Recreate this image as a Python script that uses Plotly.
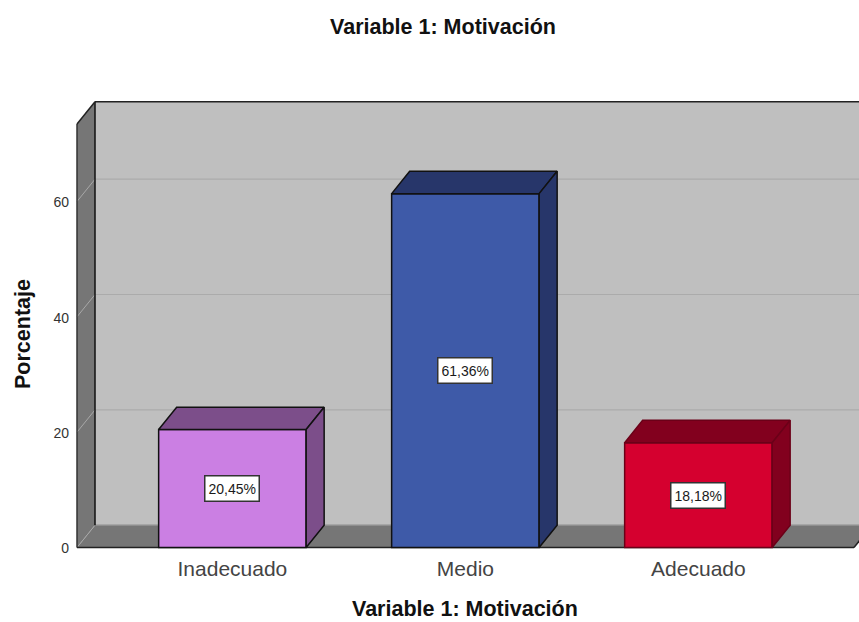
import plotly.graph_objects as go

categories = ["Inadecuado", "Medio", "Adecuado"]
percentages = [20.45, 61.36, 18.18]
y_ticks = [0, 20, 40, 60]
chart_title = "Variable 1: Motivación"
x_title = "Variable 1: Motivación"
y_title = "Porcentaje"

front_colors = ["#CB7FE3", "#3E5AA8", "#D5002F"]
side_colors = ["#7C4E8A", "#27366A", "#82001E"]
bar_edges = ["#111111", "#111111", "#6b0018"]

WIDTH, HEIGHT = 859, 622
M_L, M_R, M_T, M_B = 70, 0, 95, 70
PX_PER_CAT = 233.0
PX_PER_UNIT = 5.767
X0_PX, Y0_PX = 232.4, 547.5

x_range = [(M_L - X0_PX) / PX_PER_CAT, (WIDTH - M_R - X0_PX) / PX_PER_CAT]
y_range = [(Y0_PX - (HEIGHT - M_B)) / PX_PER_UNIT, (Y0_PX - M_T) / PX_PER_UNIT]

DX = 18 / PX_PER_CAT
DY = 22.3 / PX_PER_UNIT
BAR_W = 147.5 / PX_PER_CAT
Y_TOP_FRONT = (Y0_PX - 124) / PX_PER_UNIT
X_LEFT = (77 - X0_PX) / PX_PER_CAT
X_RIGHT = (854 - X0_PX) / PX_PER_CAT
xs = list(range(len(categories)))

fig = go.Figure()

# Front faces
fig.add_trace(go.Bar(
    x=xs, y=percentages, width=BAR_W,
    marker=dict(color=front_colors, line=dict(color=bar_edges, width=1.5)),
    hoverinfo="skip", showlegend=False,
))

# Top and side faces
for x, v, side, edge in zip(xs, percentages, side_colors, bar_edges):
    l, r = x - BAR_W / 2, x + BAR_W / 2
    fig.add_trace(go.Scatter(
        x=[l, l + DX, r + DX, r, l], y=[v, v + DY, v + DY, v, v],
        mode="lines", fill="toself", fillcolor=side,
        line=dict(color=edge, width=1.5), hoverinfo="skip", showlegend=False))
    fig.add_trace(go.Scatter(
        x=[r, r + DX, r + DX, r, r], y=[v, v + DY, DY, 0, v],
        mode="lines", fill="toself", fillcolor=side,
        line=dict(color=edge, width=1.5), hoverinfo="skip", showlegend=False))


def poly(px, py, fill, line_color=None, line_w=0):
    path = "M " + " L ".join(f"{a},{b}" for a, b in zip(px, py)) + " Z"
    return dict(type="path", path=path, xref="x", yref="y", layer="below",
                fillcolor=fill, line=dict(color=line_color or fill, width=line_w))


def seg(x0, y0, x1, y1, color, w):
    return dict(type="line", x0=x0, y0=y0, x1=x1, y1=y1, xref="x", yref="y",
                layer="below", line=dict(color=color, width=w))


wall_top = Y_TOP_FRONT + DY
back_r = X_RIGHT + DX
shapes = [
    poly([X_LEFT + DX, back_r, back_r, X_LEFT + DX], [DY, DY, wall_top, wall_top], "#BFBFBF"),
    poly([X_LEFT, X_LEFT + DX, X_LEFT + DX, X_LEFT], [0, DY, wall_top, Y_TOP_FRONT], "#767676"),
    poly([X_LEFT, X_RIGHT, back_r, X_LEFT + DX], [0, 0, DY, DY], "#767676"),
]
for t in y_ticks[1:]:
    shapes.append(seg(X_LEFT + DX, t + DY, back_r, t + DY, "#ABABAB", 1.2))
for t in y_ticks:
    shapes.append(seg(X_LEFT, t, X_LEFT + DX, t + DY, "#A8A8A8", 1))
shapes += [
    seg(X_LEFT + DX, DY, back_r, DY, "#8E8E8E", 1.5),
    seg(X_LEFT + DX, DY, X_LEFT + DX, wall_top, "#111111", 1.5),
    seg(X_LEFT + DX, wall_top, back_r, wall_top, "#222222", 1.5),
    seg(X_LEFT, 0, X_LEFT, Y_TOP_FRONT, "#333333", 1.5),
    seg(X_LEFT, Y_TOP_FRONT, X_LEFT + DX, wall_top, "#222222", 1.5),
    seg(X_LEFT, 0, X_RIGHT, 0, "#222222", 1.5),
    seg(X_RIGHT, 0, back_r, DY, "#222222", 1.5),
]

annotations = [
    dict(x=x, y=v / 2, xref="x", yref="y",
         text=f"{v:.2f}".replace(".", ",") + "%", showarrow=False, height=18,
         font=dict(family="Liberation Sans", size=14, color="#1a1a1a"),
         bgcolor="#FFFFFF", bordercolor="#333333", borderwidth=1.5, borderpad=3)
    for x, v in zip(xs, percentages)
]
plot_w = WIDTH - M_L - M_R
plot_h = HEIGHT - M_T - M_B
annotations.append(dict(
    x=(23 - M_L) / plot_w, y=(HEIGHT - M_B - 334) / plot_h, xref="paper", yref="paper",
    xanchor="center", yanchor="middle",
    text=y_title, textangle=-90, showarrow=False,
    font=dict(family="Liberation Sans", size=21.5, color="#111111", weight="bold")))
annotations.append(dict(
    x=(465 - M_L) / plot_w, y=(HEIGHT - M_B - 609) / plot_h, xref="paper", yref="paper",
    xanchor="center", yanchor="middle", borderpad=0,
    text=x_title, showarrow=False,
    font=dict(family="Liberation Sans", size=21.5, color="#111111", weight="bold")))

fig.update_layout(
    width=WIDTH, height=HEIGHT, autosize=False,
    margin=dict(l=M_L, r=M_R, t=M_T, b=M_B, pad=0),
    paper_bgcolor="#FFFFFF", plot_bgcolor="#FFFFFF",
    title=dict(text=chart_title, x=443 / WIDTH, xanchor="center",
               y=1 - 26 / HEIGHT, yanchor="middle",
               font=dict(family="Liberation Sans", size=21.5, color="#111111", weight="bold")),
    xaxis=dict(range=x_range, tickvals=xs, ticktext=categories, showgrid=False, zeroline=False,
               showline=False, ticks="", ticklabelstandoff=2,
               tickfont=dict(family="Liberation Sans", size=21, color="#444444")),
    yaxis=dict(range=y_range, tickvals=y_ticks, showgrid=False, zeroline=False, showline=False,
               ticks="", ticklabelshift=1,
               tickfont=dict(family="Liberation Sans", size=14, color="#333333")),
    shapes=shapes, annotations=annotations, showlegend=False,
)

fig.write_html("out.html", config={"displayModeBar": False},
               post_script="document.body.style.margin='0';document.documentElement.style.overflow='hidden';")
